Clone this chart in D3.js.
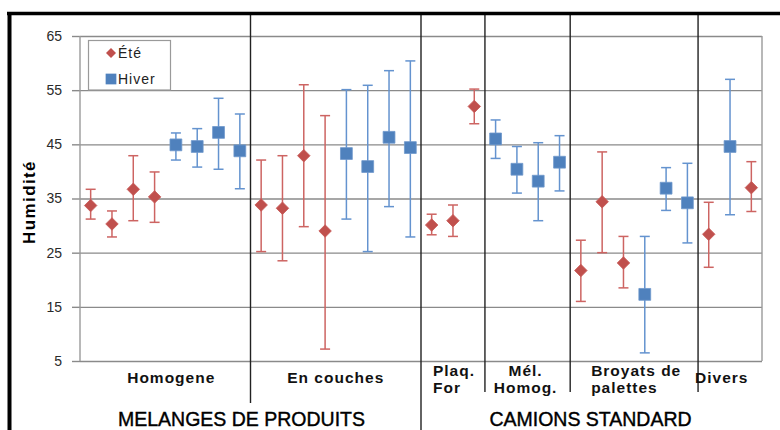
<!DOCTYPE html>
<html>
<head>
<meta charset="utf-8">
<script src="https://cdnjs.cloudflare.com/ajax/libs/d3/7.8.5/d3.min.js"></script>
<style>
  body { margin: 0; background: #fff; }
  text { font-family: "Liberation Sans", Arial, sans-serif; }
</style>
</head>
<body>
<script>
// Groups of categories and how many points each holds
var groups = ["Homogene", "En couches", "Plaq. For", "Mél. Homog.", "Broyats de palettes", "Divers"];
var groupSizes = [8, 8, 3, 4, 6, 3];
var superGroups = ["MELANGES DE PRODUITS", "CAMIONS STANDARD"];
var superSizes = [16, 16];

// Season of each point, in order
var saisons = ["Été", "Été", "Été", "Été", "Hiver", "Hiver", "Hiver", "Hiver",
    "Été", "Été", "Été", "Été", "Hiver", "Hiver", "Hiver", "Hiver",
    "Été", "Été", "Été",
    "Hiver", "Hiver", "Hiver", "Hiver",
    "Été", "Été", "Été", "Hiver", "Hiver", "Hiver",
    "Été", "Hiver", "Été"];

// Mean humidity and error bar bounds
var moyenne = [33.7, 30.3, 36.7, 35.3, 44.9, 44.6, 47.2, 43.8,
    33.8, 33.2, 42.9, 29.0, 43.3, 40.9, 46.3, 44.4,
    30.1, 30.9, 52.0,
    46.0, 40.4, 38.2, 41.7,
    21.7, 34.4, 23.1, 17.3, 36.9, 34.2,
    28.4, 44.6, 37.0];
var haut = [36.7, 32.7, 42.9, 39.9, 47.1, 47.9, 53.5, 50.6,
    42.1, 42.9, 56.0, 50.3, 55.1, 55.9, 58.6, 60.4,
    32.1, 33.8, 55.2,
    49.5, 44.6, 45.3, 46.6,
    27.3, 43.6, 28.0, 28.0, 40.7, 41.5,
    34.3, 57.0, 41.8];
var bas = [31.2, 27.9, 30.9, 30.6, 42.1, 40.8, 40.4, 36.8,
    25.2, 23.5, 29.8, 7.2, 31.2, 25.2, 33.5, 27.9,
    28.3, 28.0, 48.8,
    42.4, 36.0, 30.9, 36.4,
    16.0, 25.0, 18.5, 6.5, 32.8, 26.8,
    22.3, 32.0, 32.6];

var yTicks = [5, 15, 25, 35, 45, 55, 65];

var width = 780, height = 430;
var svg = d3.select("body").append("svg")
    .attr("width", width)
    .attr("height", height);

var plot = {left: 80, right: 762, top: 36, bottom: 361};

var x = d3.scaleBand()
    .domain(d3.range(moyenne.length))
    .range([plot.left, plot.right]);
var y = d3.scaleLinear()
    .domain([5, 65])
    .range([plot.bottom, plot.top]);

var colors = {"Été": "#c0504d", "Hiver": "#4f81bd"};
var barColors = {"Été": "#cd6462", "Hiver": "#6493cf"};

// Gridlines
svg.append("g")
    .attr("transform", "translate(" + plot.left + ",0)")
    .call(d3.axisLeft(y).tickValues(yTicks).tickSize(-(plot.right - plot.left)).tickFormat(""))
    .call(function(g) { g.select(".domain").remove(); })
    .selectAll("line")
    .attr("stroke", "#8a8a8a")
    .attr("stroke-width", 1.4);

// Y axis with labels
var yAxis = svg.append("g")
    .attr("transform", "translate(" + plot.left + ",0)")
    .call(d3.axisLeft(y).tickValues(yTicks).tickSize(8).tickPadding(10));
yAxis.select(".domain").remove();
yAxis.selectAll("line").attr("stroke", "#8a8a8a").attr("stroke-width", 1.4);
yAxis.selectAll("text")
    .attr("fill", "#2a2a2a")
    .style("font-size", "14px")
    .style("font-family", "'Liberation Sans', Arial, sans-serif");

// Plot side borders
svg.append("line")
    .attr("x1", plot.left).attr("x2", plot.left)
    .attr("y1", plot.top).attr("y2", plot.bottom)
    .attr("stroke", "#9a9a9a").attr("stroke-width", 1.4);
svg.append("line")
    .attr("x1", plot.right).attr("x2", plot.right)
    .attr("y1", plot.top).attr("y2", plot.bottom)
    .attr("stroke", "#9a9a9a").attr("stroke-width", 1.4);

// Group separators
var bounds = [];
var acc = 0;
groupSizes.forEach(function(n) { bounds.push(acc); acc += n; });
var sepBottoms = [403, 430, 392, 392, 392];
bounds.slice(1).forEach(function(b, i) {
    var xs = x(b);
    svg.append("line")
        .attr("x1", xs).attr("x2", xs)
        .attr("y1", 14).attr("y2", sepBottoms[i])
        .attr("stroke", "#222").attr("stroke-width", 1.4);
});

// Outer frame
svg.append("line")
    .attr("x1", 7).attr("x2", width)
    .attr("y1", 13.5).attr("y2", 13.5)
    .attr("stroke", "#000").attr("stroke-width", 3.5);
svg.append("line")
    .attr("x1", 9.5).attr("x2", 9.5)
    .attr("y1", 12).attr("y2", height)
    .attr("stroke", "#000").attr("stroke-width", 4);

// Data
var data = moyenne.map(function(m, i) {
    return {i: i, saison: saisons[i], m: m, lo: bas[i], hi: haut[i]};
});

var cap = 5;
var bars = svg.append("g").selectAll("g")
    .data(data)
    .enter().append("g")
    .attr("stroke", function(d) { return barColors[d.saison]; })
    .attr("stroke-width", 1.5);
bars.append("line")
    .attr("x1", function(d) { return x(d.i) + x.bandwidth() / 2; })
    .attr("x2", function(d) { return x(d.i) + x.bandwidth() / 2; })
    .attr("y1", function(d) { return y(d.lo); })
    .attr("y2", function(d) { return y(d.hi); });
bars.append("line")
    .attr("x1", function(d) { return x(d.i) + x.bandwidth() / 2 - cap; })
    .attr("x2", function(d) { return x(d.i) + x.bandwidth() / 2 + cap; })
    .attr("y1", function(d) { return y(d.hi); })
    .attr("y2", function(d) { return y(d.hi); });
bars.append("line")
    .attr("x1", function(d) { return x(d.i) + x.bandwidth() / 2 - cap; })
    .attr("x2", function(d) { return x(d.i) + x.bandwidth() / 2 + cap; })
    .attr("y1", function(d) { return y(d.lo); })
    .attr("y2", function(d) { return y(d.lo); });

var diamond = d3.symbol().type(d3.symbolSquare).size(78);
var square = d3.symbol().type(d3.symbolSquare).size(140);

svg.append("g").selectAll("path")
    .data(data)
    .enter().append("path")
    .attr("d", function(d) { return d.saison == "Été" ? diamond() : square(); })
    .attr("transform", function(d) {
        var t = "translate(" + (x(d.i) + x.bandwidth() / 2) + "," + y(d.m) + ")";
        return d.saison == "Été" ? t + " rotate(45)" : t;
    })
    .attr("fill", function(d) { return colors[d.saison]; })
    .attr("stroke", function(d) { return d.saison == "Été" ? "#c95a57" : "#6f98cc"; })
    .attr("stroke-width", 0.8);

// Legend
var legend = svg.append("g");
legend.append("rect")
    .attr("x", 88.5).attr("y", 40.5)
    .attr("width", 82).attr("height", 49.5)
    .attr("fill", "#fff")
    .attr("stroke", "#9a9a9a").attr("stroke-width", 1.2);
var legendItems = ["Été", "Hiver"];
legendItems.forEach(function(s, k) {
    var ly = 53 + k * 26;
    legend.append("path")
        .attr("d", s == "Été" ? d3.symbol().type(d3.symbolSquare).size(50)() : d3.symbol().type(d3.symbolSquare).size(115)())
        .attr("transform", "translate(111," + ly + ")" + (s == "Été" ? " rotate(45)" : ""))
        .attr("fill", colors[s]);
    legend.append("text")
        .attr("x", 118).attr("y", ly + 5)
        .attr("fill", "#222")
        .style("font-size", "14px")
        .style("letter-spacing", "1px")
        .text(s);
});

// Y axis title
svg.append("text")
    .attr("transform", "translate(35,202) rotate(-90)")
    .attr("text-anchor", "middle")
    .style("font-size", "17px")
    .style("font-weight", "bold")
    .style("letter-spacing", "1.4px")
    .text("Humidité");

// Category labels
var labelLines = [["Homogene"], ["En couches"], ["Plaq.", "For"], ["Mél.", "Homog."], ["Broyats de", "palettes"], ["Divers"]];
var labelAnchor = ["middle", "middle", "start", "middle", "start", "start"];
var labelDx = [6, 0, -20, -2, -43, -35];
groups.forEach(function(g, k) {
    var x0 = x(bounds[k]);
    var x1 = x0 + x.step() * groupSizes[k];
    var lines = labelLines[k];
    var t = svg.append("text")
        .attr("text-anchor", labelAnchor[k])
        .attr("fill", "#111")
        .style("font-size", "15.5px")
        .style("font-weight", "bold")
        .style("letter-spacing", "1px");
    lines.forEach(function(l, j) {
        t.append("tspan")
            .attr("x", (x0 + x1) / 2 + labelDx[k])
            .attr("y", lines.length == 1 ? 383 : 376 + j * 17)
            .text(l);
    });
});

// Super group labels
var superDx = [-9, -1];
var s0 = 0;
superGroups.forEach(function(g, k) {
    var x0 = x(s0);
    var x1 = x0 + x.step() * superSizes[k];
    s0 += superSizes[k];
    svg.append("text")
        .attr("x", (x0 + x1) / 2 + superDx[k])
        .attr("y", 426)
        .attr("text-anchor", "middle")
        .attr("fill", "#000")
        .attr("stroke", "#000")
        .attr("stroke-width", 0.4)
        .style("font-size", "19.5px")
        .text(g);
});
</script>
</body>
</html>
